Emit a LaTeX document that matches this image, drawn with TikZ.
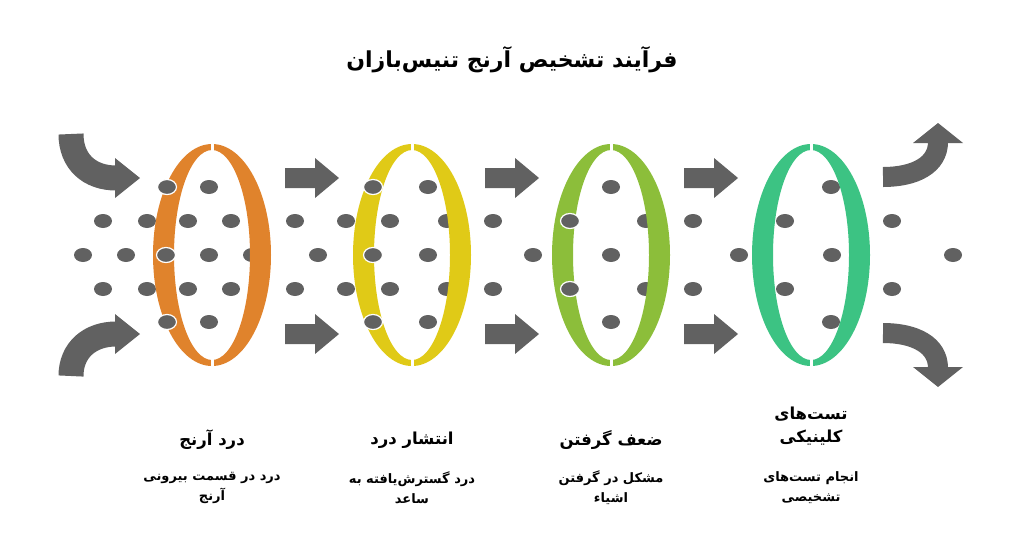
\documentclass[tikz,border=0pt]{standalone}
\usepackage{fontspec}
\usetikzlibrary{positioning}
\newfontfamily\arabicfont[Script=Arabic]{DejaVu Sans}
\TeXXeTstate=1
\definecolor{ringorange}{HTML}{E0832C}
\definecolor{ringyellow}{HTML}{E0CA17}
\definecolor{ringgreen}{HTML}{8CBE3A}
\definecolor{ringteal}{HTML}{3CC383}
\definecolor{dotgray}{HTML}{616161}
\newcommand{\rtl}[1]{\arabicfont\bfseries\beginR #1\endR}

\begin{document}
\begin{tikzpicture}[
    x = 1pt, y = -1pt,
    dot/.style = {fill = dotgray},
    frontdot/.style = {fill = dotgray, draw = white, line width = 1.2},
    bentarrow/.style = {draw = dotgray, line width = 25},
    head/.style = {fill = dotgray},
    titletext/.style = {font = \fontsize{16.5}{23}\selectfont, align = center},
    desctext/.style = {font = \fontsize{13}{20}\selectfont, align = center}
]
\useasboundingbox (0,0) rectangle (1024,555);

% title
\node[font = \fontsize{22}{26}\selectfont] (title) at (512, 60) {\rtl{فرآیند تشخیص آرنج تنیس‌بازان}};

% dots behind the rings
\foreach \x/\y in {103/221, 147/221, 188/221, 231/221, 295/221, 346/221,
    83/255, 126/255, 209/255, 252/255, 318/255,
    103/289, 147/289, 188/289, 231/289, 295/289, 346/289,
    209/187, 209/322,
    390/221, 447/221, 493/221, 428/255, 533/255, 390/289, 447/289, 493/289,
    428/187, 428/322,
    611/187, 646/221, 611/255, 646/289, 611/322,
    693/221, 785/221, 892/221, 739/255, 832/255, 953/255,
    693/289, 785/289, 892/289, 831/187, 831/322}
{
    \fill[dot] (\x, \y) ellipse (9 and 7);
}

% rings
\foreach \cx/\col in {212/ringorange, 412/ringyellow, 611/ringgreen, 811/ringteal}
{
    \fill[\col, even odd rule] (\cx, 255) ellipse (59 and 111) (\cx, 255) ellipse (38 and 105);
    \draw[white, line width = 3] (\cx, 141) -- (\cx, 152);
    \draw[white, line width = 3] (\cx, 358) -- (\cx, 369);
}

% dots in front of the rings
\foreach \x/\y in {167/187, 166/255, 167/322, 373/187, 373/255, 373/322, 570/221, 570/289}
{
    \draw[frontdot] (\x, \y) ellipse (9.5 and 7.5);
}

% straight arrows
\foreach \ax in {285, 485, 684}
\foreach \ay in {178, 334}
{
    \fill[head] (\ax, \ay - 10) -- (\ax + 30, \ay - 10) -- (\ax + 30, \ay - 20) -- (\ax + 54, \ay)
        -- (\ax + 30, \ay + 20) -- (\ax + 30, \ay + 10) -- (\ax, \ay + 10) -- cycle;
}

% curved arrows in
\draw[bentarrow] (71, 134) .. controls (71, 162) and (90, 178) .. (116, 178);
\fill[head] (115, 158) -- (140, 178) -- (115, 198) -- cycle;
\draw[bentarrow] (71, 376) .. controls (71, 350) and (90, 334) .. (116, 334);
\fill[head] (115, 314) -- (140, 334) -- (115, 354) -- cycle;

% curved arrows out
\draw[bentarrow, line width = 20] (883, 177) .. controls (915, 177) and (938, 165) .. (938, 142);
\fill[head] (913, 143) -- (938, 123) -- (963, 143) -- cycle;
\draw[bentarrow, line width = 20] (883, 333) .. controls (915, 333) and (938, 345) .. (938, 368);
\fill[head] (913, 367) -- (938, 387) -- (963, 367) -- cycle;

% labels
\node[titletext] (t1) at (212, 440) {\rtl{درد آرنج}};
\node[titletext] (t2) at (412, 440) {\rtl{انتشار درد}};
\node[titletext] (t3) at (611, 440) {\rtl{ضعف گرفتن}};
\node[titletext] (t4) at (811, 426) {\rtl{تست‌های}\\\rtl{کلینیکی}};

\node[desctext] (d1) at (212, 488) {\rtl{درد در قسمت بیرونی}\\\rtl{آرنج}};
\node[desctext] (d2) at (412, 488) {\rtl{درد گسترش‌یافته به}\\\rtl{ساعد}};
\node[desctext] (d3) at (611, 488) {\rtl{مشکل در گرفتن}\\\rtl{اشیاء}};
\node[desctext] (d4) at (811, 488) {\rtl{انجام تست‌های}\\\rtl{تشخیصی}};

\end{tikzpicture}
\end{document}
